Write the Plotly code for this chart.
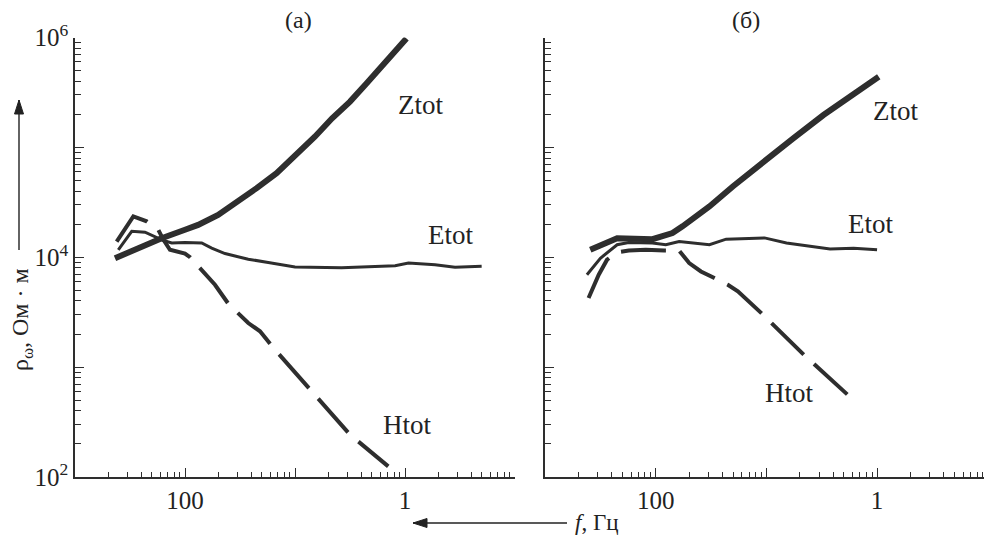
import plotly.graph_objects as go

W, H = 984, 536

# ---------------- data: panel (а) ----------------
fa_Z = [433, 248, 163, 100, 76, 50, 33, 22.3, 14.7, 10, 6.6, 4.6, 3.16, 2.23, 1.52, 0.97]
ra_Z = [9.8e3, 1.25e4, 1.49e4, 1.78e4, 1.97e4, 2.43e4, 3.22e4, 4.26e4, 5.82e4, 8.26e4,
        1.25e5, 1.84e5, 2.61e5, 3.83e5, 6.03e5, 9.8e5]

fa_E = [404, 305, 231, 187, 157, 132, 100, 70.5, 57.2, 43.3, 26.6, 17.5, 10, 3.77, 1.23,
        0.93, 0.533, 0.351, 0.201]
ra_E = [1.17e4, 1.72e4, 1.69e4, 1.55e4, 1.42e4, 1.35e4, 1.36e4, 1.35e4, 1.21e4, 1.08e4,
        9.6e3, 8.97e3, 8.14e3, 8.04e3, 8.38e3, 8.85e3, 8.55e3, 8.09e3, 8.26e3]

fa_H = [418, 295, 223, 175, 157, 137, 100, 90, 53.4, 40.4, 26.6, 20.8, 15.2, 7.3, 3.16, 1.42]
ra_H = [1.39e4, 2.35e4, 2.12e4, 1.78e4, 1.44e4, 1.17e4, 1.08e4, 1.0e4, 5.62e3, 3.78e3,
        2.52e3, 2.12e3, 1.44e3, 624, 243, 125]

# ---------------- data: panel (б) ----------------
fb_Z = [390, 223, 107, 70.5, 57.2, 32.7, 20.1, 10.7, 5.72, 3.05, 1.63, 0.966]
rb_Z = [1.17e4, 1.49e4, 1.46e4, 1.66e4, 1.91e4, 2.9e4, 4.41e4, 7.43e4, 1.21e5, 1.97e5,
        3.1e5, 4.4e5]

fb_E = [418, 316, 223, 175, 107, 81, 61.4, 46.4, 32.7, 23.1, 15.2, 10.4, 6.58, 4.33,
        2.66, 1.63, 1.0]
rb_E = [6.93e3, 9.8e3, 1.3e4, 1.36e4, 1.35e4, 1.3e4, 1.39e4, 1.35e4, 1.3e4, 1.46e4,
        1.47e4, 1.5e4, 1.35e4, 1.27e4, 1.19e4, 1.21e4, 1.17e4]

fb_H = [404, 327, 275, 223, 175, 123, 84, 61.4, 49.8, 39, 29.5, 22.3, 18.1, 11.1, 4.49, 1.81]
rb_H = [4.26e3, 6.93e3, 9.5e3, 1.11e4, 1.15e4, 1.17e4, 1.15e4, 1.15e4, 8.85e3, 7.43e3,
        6.47e3, 5.62e3, 4.89e3, 3.1e3, 1.27e3, 551]

# tick labels
x_label_vals = [100, 1]
x_label_text = ["100", "1"]
x_major_unlabeled = [1000, 10, 0.1]
y_label_vals = [1e2, 1e4, 1e6]
y_label_text = ["10<sup>2</sup>", "10<sup>4</sup>", "10<sup>6</sup>"]
y_major_unlabeled = [1e3, 1e5]
curve_names = ["Ztot", "Etot", "Htot"]
panel_titles = ["(а)", "(б)"]

# ---------------- figure ----------------
INK = "#2e2e2e"
TXT = "#222"
FONT = "Liberation Serif"

fig = go.Figure()

def add_panel(xa, ya, fZ, rZ, fE, rE, fH, rH):
    fig.add_trace(go.Scatter(x=fZ, y=rZ, mode="lines", xaxis=xa, yaxis=ya,
                             line=dict(color=INK, width=6), showlegend=False))
    fig.add_trace(go.Scatter(x=fE, y=rE, mode="lines", xaxis=xa, yaxis=ya,
                             line=dict(color=INK, width=3), showlegend=False))
    fig.add_trace(go.Scatter(x=fH, y=rH, mode="lines", xaxis=xa, yaxis=ya,
                             line=dict(color=INK, width=4, dash="45px,14px"),
                             showlegend=False))

add_panel("x", "y", fa_Z, ra_Z, fa_E, ra_E, fa_H, ra_H)
add_panel("x2", "y2", fb_Z, rb_Z, fb_E, rb_E, fb_H, rb_H)
# empty traces so the overlay axes (unlabelled major ticks) are drawn
fig.add_trace(go.Scatter(x=[], y=[], xaxis="x3", yaxis="y3", showlegend=False))
fig.add_trace(go.Scatter(x=[], y=[], xaxis="x4", yaxis="y4", showlegend=False))

# minor ticks: x in "period" spacing (reversed frequency), y standard log
x_minor = [10 ** (k + 1) / m for k in range(-2, 3) for m in range(2, 10)]
y_minor = [m * 10 ** k for k in range(2, 6) for m in range(2, 10)]

def px_x(p):
    return p / W

def px_y(p):
    return 1 - p / H

tickfont = dict(family=FONT, size=25, color=TXT)

common_x = dict(type="log", showline=True, linecolor=INK, linewidth=1.5,
                ticks="inside", ticklen=9, tickwidth=1.3, tickcolor=INK,
                tickmode="array", tickvals=x_label_vals, ticktext=x_label_text,
                minor=dict(ticks="inside", ticklen=5, tickwidth=1.2, tickcolor=INK,
                           tickmode="array", tickvals=x_minor, showgrid=False),
                showgrid=False, zeroline=False, automargin=False, tickfont=tickfont)
common_y = dict(type="log", range=[2, 6], showline=True, linecolor=INK, linewidth=1.5,
                ticks="inside", ticklen=9, tickwidth=1.3, tickcolor=INK,
                tickmode="array", tickvals=y_label_vals, ticktext=y_label_text,
                minor=dict(ticks="inside", ticklen=6, tickwidth=1.2, tickcolor=INK,
                           tickmode="array", tickvals=y_minor, showgrid=False),
                showgrid=False, zeroline=False, automargin=False, tickfont=tickfont)
over_x = dict(type="log", showline=False, ticks="inside", ticklen=9, tickwidth=1.3,
              tickcolor=INK, tickmode="array", tickvals=x_major_unlabeled,
              showticklabels=False, showgrid=False, zeroline=False, automargin=False)
over_y = dict(type="log", range=[2, 6], showline=False, ticks="inside", ticklen=9,
              tickwidth=1.3, tickcolor=INK, tickmode="array", tickvals=y_major_unlabeled,
              showticklabels=False, showgrid=False, zeroline=False, automargin=False)

ydom = [px_y(477), px_y(37.5)]
xdom1 = [px_x(75), px_x(515)]
xdom2 = [px_x(545), 1.0]
xr1 = [3, -1]
xr2 = [3, -0.966]

fig.update_layout(
    width=W, height=H,
    margin=dict(l=0, r=0, t=0, b=0),
    paper_bgcolor="white", plot_bgcolor="white",
    font=dict(family=FONT, color=TXT),
    xaxis=dict(common_x, domain=xdom1, range=xr1, anchor="y"),
    yaxis=dict(common_y, domain=ydom, anchor="x"),
    xaxis2=dict(common_x, domain=xdom2, range=xr2, anchor="y2"),
    yaxis2=dict(common_y, domain=ydom, anchor="x2", showticklabels=False),
    xaxis3=dict(over_x, domain=xdom1, range=xr1, anchor="y3", overlaying="x"),
    yaxis3=dict(over_y, domain=ydom, anchor="x3", overlaying="y"),
    xaxis4=dict(over_x, domain=xdom2, range=xr2, anchor="y4", overlaying="x2"),
    yaxis4=dict(over_y, domain=ydom, anchor="x4", overlaying="y2"),
)

ann = []
# panel titles
for txt, cx in zip(panel_titles, [298, 746]):
    ann.append(dict(text=txt, x=px_x(cx), y=px_y(20), xref="paper", yref="paper",
                    showarrow=False, font=dict(family=FONT, size=24, color=TXT),
                    xanchor="center", yanchor="middle"))

# curve labels
label_pos = [
    (420, 105), (450, 235), (407, 425),
    (895, 111), (870, 224), (789, 393),
]
for i, (cx, cy) in enumerate(label_pos):
    ann.append(dict(text=curve_names[i % 3], x=px_x(cx), y=px_y(cy),
                    xref="paper", yref="paper", showarrow=False,
                    font=dict(family=FONT, size=27, color=TXT),
                    xanchor="center", yanchor="middle"))

# axis labels
ann.append(dict(text="ρ<sub>ω</sub>, Ом · м", x=px_x(22), y=px_y(320),
                xref="paper", yref="paper", showarrow=False, textangle=-90,
                font=dict(family=FONT, size=24, color=TXT),
                xanchor="center", yanchor="middle"))
ann.append(dict(text="<i>f</i>, Гц", x=px_x(573), y=px_y(522),
                xref="paper", yref="paper", showarrow=False,
                font=dict(family=FONT, size=23, color=TXT),
                xanchor="left", yanchor="middle"))
fig.update_layout(annotations=ann)

# arrows drawn as shapes (paper coordinates)
def arrow_shapes(x0, y0, x1, y1):
    # shaft from (x0,y0) to head at (x1,y1), pixel coords
    shapes = [dict(type="line", xref="paper", yref="paper",
                   x0=px_x(x0), y0=px_y(y0), x1=px_x(x1), y1=px_y(y1),
                   line=dict(color=TXT, width=1.4))]
    if x0 == x1:  # vertical, pointing up
        pts = [(x1, y1), (x1 - 4.5, y1 + 14), (x1 + 4.5, y1 + 14)]
    else:         # horizontal, pointing left
        pts = [(x1, y1), (x1 + 14, y1 - 4.5), (x1 + 14, y1 + 4.5)]
    path = "M {} {} L {} {} L {} {} Z".format(
        px_x(pts[0][0]), px_y(pts[0][1]), px_x(pts[1][0]), px_y(pts[1][1]),
        px_x(pts[2][0]), px_y(pts[2][1]))
    shapes.append(dict(type="path", xref="paper", yref="paper", path=path,
                       fillcolor=TXT, line=dict(color=TXT, width=1)))
    return shapes

shapes = arrow_shapes(19, 250, 19, 100) + arrow_shapes(567, 523, 413, 523)
fig.update_layout(shapes=shapes)

fig.write_html("out.html")
